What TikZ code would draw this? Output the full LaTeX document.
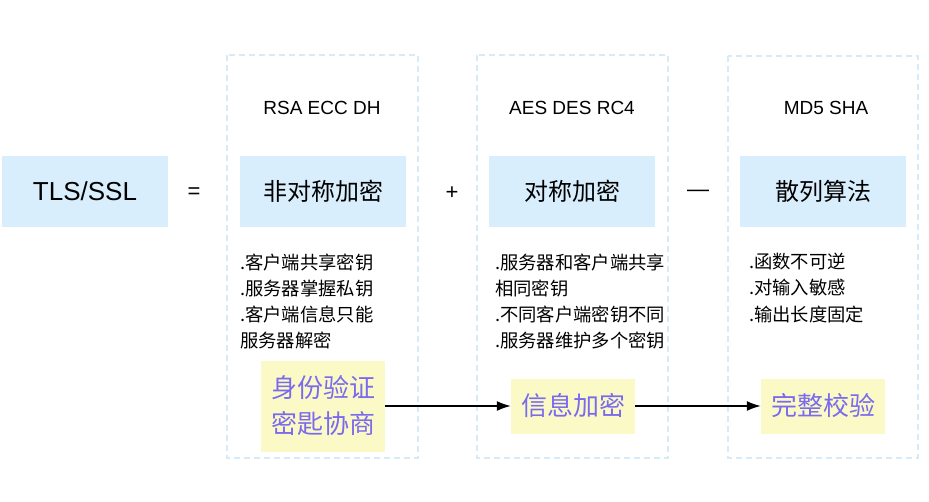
\documentclass[tikz,border=0pt]{standalone}
\usepackage{fontspec}
\setmainfont{Liberation Sans}
\newfontfamily\cjk{Noto Sans CJK SC}
\usetikzlibrary{arrows.meta}
\definecolor{algoblue}{RGB}{216,238,252}
\definecolor{frameblue}{RGB}{214,234,248}
\definecolor{goalyellow}{RGB}{251,250,198}
\definecolor{goalviolet}{RGB}{122,106,238}
\begin{document}
\begin{tikzpicture}[x = 1pt, y = -1pt,
		algo/.style = {fill = algoblue, minimum width = 166pt, minimum height = 71pt, inner sep = 0pt, font = \cjk\fontsize{24}{28}\selectfont},
		goal/.style = {fill = goalyellow, text = goalviolet, minimum width = 124pt, inner sep = 0pt, align = center, font = \cjk\fontsize{26}{36}\selectfont},
		desc/.style = {anchor = base west, inner sep = 0pt, font = \cjk\fontsize{18.3}{26}\selectfont},
		family/.style = {font = \fontsize{19}{23}\selectfont},
		op/.style = {font = \fontsize{22}{26}\selectfont},
		frame/.style = {frameblue, line width = 1.2pt, dash pattern = on 6pt off 4pt},
		flow/.style = {line width = 1.5pt, -{Latex[length = 14pt, width = 10pt]}}]
			\useasboundingbox (0,0) rectangle (929,501);
			% dashed columns
			\draw [frame] (227,55) rectangle (418,458);
			\draw [frame] (477,55) rectangle (668,458);
			\draw [frame] (728,56) rectangle (918,458);
			% top row
			\node [algo, font = \fontsize{26}{30}\selectfont] (tls) at (85,191.5) {TLS/SSL};
			\node [algo] (asym) at (323,191.5) {非对称加密};
			\node [algo] (sym) at (572,191.5) {对称加密};
			\node [algo] (hash) at (823,191.5) {散列算法};
			\node [op] (eq) at (194,193) {=};
			\node [op] (plus) at (452,193) {+};
			\node [op] (minus) at (698,193) {—};
			% algorithm names
			\node [family] (asymnames) at (322,108) {RSA ECC DH};
			\node [family] (symnames) at (572,108) {AES DES RC4};
			\node [family] (hashnames) at (826,108) {MD5 SHA};
			% properties
			\foreach \t [count = \i] in {.客户端共享密钥, .服务器掌握私钥, .客户端信息只能, 服务器解密}
				\node [desc] (asymdesc-\i) at (240,{269+26*(\i-1)}) {\t};
			\foreach \t [count = \i] in {.服务器和客户端共享, 相同密钥, .不同客户端密钥不同, .服务器维护多个密钥}
				\node [desc] (symdesc-\i) at (495,{269+26*(\i-1)}) {\t};
			\foreach \t [count = \i] in {.函数不可逆, .对输入敏感, .输出长度固定}
				\node [desc] (hashdesc-\i) at (749,{268+26.5*(\i-1)}) {\t};
			% what each part gives
			\node [goal, minimum height = 91pt] (auth) at (323,406) {身份验证\\密匙协商};
			\node [goal, minimum height = 55pt] (enc) at (573,406) {信息加密};
			\node [goal, minimum height = 55pt] (check) at (823,406) {完整校验};
			\draw [flow] (auth) -- (enc);
			\draw [flow] (enc) -- (check);
		\end{tikzpicture}
\end{document}
